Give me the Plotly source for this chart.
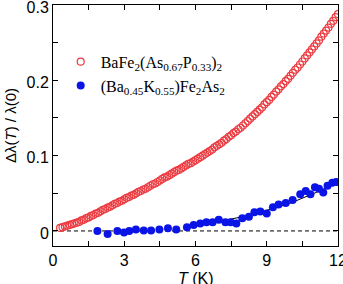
import plotly.graph_objects as go

# BaFe2(As0.67P0.33)2 : T (K) and delta-lambda / lambda(0)
t_red = [0.3, 0.4, 0.5, 0.6, 0.7, 0.8, 0.9, 1.0, 1.1, 1.2, 1.3, 1.4, 1.5, 1.6, 1.7, 1.8, 1.9,
         2.0, 2.1, 2.2, 2.3, 2.4, 2.5, 2.6, 2.7, 2.8, 2.9, 3.0, 3.1, 3.2, 3.3, 3.4, 3.5, 3.6,
         3.7, 3.8, 3.9, 4.0, 4.1, 4.2, 4.3, 4.4, 4.5, 4.6, 4.7, 4.8, 4.9, 5.0, 5.1, 5.2, 5.3,
         5.4, 5.5, 5.6, 5.7, 5.8, 5.9, 6.0, 6.1, 6.2, 6.3, 6.4, 6.5, 6.6, 6.7, 6.8, 6.9, 7.0,
         7.1, 7.2, 7.3, 7.4, 7.5, 7.6, 7.7, 7.8, 7.9, 8.0, 8.1, 8.2, 8.3, 8.4, 8.5, 8.6, 8.7,
         8.8, 8.9, 9.0, 9.1, 9.2, 9.3, 9.4, 9.5, 9.6, 9.7, 9.8, 9.9, 10.0, 10.1, 10.2, 10.3,
         10.4, 10.5, 10.6, 10.7, 10.8, 10.9, 11.0, 11.1, 11.2, 11.3, 11.4, 11.5, 11.6, 11.7,
         11.8, 11.9, 12.0]
v_red = [0.004, 0.005, 0.006, 0.007, 0.008, 0.009, 0.010, 0.011, 0.012, 0.014, 0.015, 0.017,
         0.018, 0.020, 0.021, 0.023, 0.024, 0.026, 0.028, 0.029, 0.031, 0.032, 0.034, 0.036,
         0.037, 0.039, 0.040, 0.042, 0.044, 0.045, 0.047, 0.048, 0.050, 0.052, 0.053, 0.055,
         0.056, 0.058, 0.060, 0.062, 0.063, 0.065, 0.067, 0.069, 0.071, 0.072, 0.074, 0.076,
         0.078, 0.080, 0.081, 0.083, 0.085, 0.087, 0.089, 0.090, 0.092, 0.094, 0.096, 0.098,
         0.100, 0.102, 0.104, 0.106, 0.108, 0.111, 0.113, 0.115, 0.117, 0.120, 0.122, 0.125,
         0.127, 0.130, 0.132, 0.135, 0.137, 0.140, 0.143, 0.146, 0.149, 0.152, 0.155, 0.158,
         0.161, 0.164, 0.168, 0.171, 0.174, 0.178, 0.181, 0.185, 0.188, 0.192, 0.195, 0.199,
         0.202, 0.206, 0.210, 0.214, 0.217, 0.221, 0.225, 0.229, 0.233, 0.237, 0.241, 0.245,
         0.249, 0.253, 0.258, 0.262, 0.266, 0.270, 0.275, 0.279, 0.284, 0.288]

# (Ba0.45K0.55)Fe2As2
t_blue = [1.87, 2.30, 2.71, 2.99, 3.21, 3.49, 3.82, 4.13, 4.48, 4.84, 5.19, 5.64, 5.92, 6.20,
          6.46, 6.72, 6.98, 7.26, 7.48, 7.72, 7.97, 8.25, 8.48, 8.73, 9.00, 9.26, 9.50, 9.80,
          10.09, 10.41, 10.64, 10.84, 11.03, 11.20, 11.38, 11.56, 11.76, 11.92]
v_blue = [0.000, -0.004, 0.000, -0.002, 0.000, 0.002, 0.0005, 0.0005, 0.002, 0.0035, 0.002,
          0.005, 0.008, 0.010, 0.0115, 0.0115, 0.015, 0.0115, 0.0115, 0.010, 0.0168, 0.019,
          0.0248, 0.0257, 0.023, 0.0314, 0.035, 0.037, 0.041, 0.0487, 0.053, 0.0487, 0.058,
          0.056, 0.051, 0.060, 0.064, 0.065]

# fit curve through the blue data
t_fit = [5.5, 6.0, 6.5, 7.0, 7.5, 8.0, 8.5, 9.0, 9.5, 10.0, 10.5, 11.0, 11.5, 12.0]
v_fit = [0.003, 0.006, 0.009, 0.012, 0.015, 0.019, 0.023, 0.027, 0.032, 0.037, 0.043, 0.050, 0.057, 0.065]

# zero reference
t_zero = [0, 12]
v_zero = [0, 0]

red = "#ec3a40"
blue = "#0a14e6"

fig = go.Figure()
fig.add_trace(go.Scatter(x=t_zero, y=v_zero, mode="lines", showlegend=False,
                         line=dict(color="black", width=1, dash="4px,3px")))
fig.add_trace(go.Scatter(x=t_fit, y=v_fit, mode="lines", showlegend=False,
                         line=dict(color="black", width=1)))
fig.add_trace(go.Scatter(x=t_red, y=v_red, mode="markers",
                         name="BaFe<sub>2</sub>(As<sub>0.67</sub>P<sub>0.33</sub>)<sub>2</sub>",
                         marker=dict(symbol="circle-open", size=7, color=red, line=dict(width=1.2, color=red))))
fig.add_trace(go.Scatter(x=t_blue, y=v_blue, mode="markers",
                         name="(Ba<sub>0.45</sub>K<sub>0.55</sub>)Fe<sub>2</sub>As<sub>2</sub>",
                         marker=dict(symbol="circle", size=8, color=blue)))

axis_common = dict(showline=True, linecolor="black", linewidth=1, mirror="ticks",
                   ticks="inside", ticklen=5, tickcolor="black", showgrid=False, zeroline=False,
                   ticklabeloverflow="allow", automargin=False,
                   tickfont=dict(family="Liberation Sans", size=16, color="black"))

fig.update_xaxes(range=[0, 12], tickvals=[0, 3, 6, 9, 12], ticktext=["0", "3", "6", "9", "12"],
                 minor=dict(tickvals=[1.5, 4.5, 7.5, 10.5], ticks="inside", ticklen=5, tickcolor="black"),
                 **axis_common)
fig.update_yaxes(range=[-0.02, 0.3], tickvals=[0, 0.1, 0.2, 0.3], ticktext=["0", "0.1", "0.2", "0.3"],
                 minor=dict(tickvals=[0.05, 0.15, 0.25], ticks="inside", ticklen=5, tickcolor="black"),
                 ticklabelshift=2,
                 title=dict(text="Δλ(<i>T</i>) / λ(0)", font=dict(family="Liberation Sans", size=15, color="black"),
                            standoff=6),
                 **axis_common)

fig.add_annotation(text="<i>T</i> (K)", xref="paper", yref="paper", x=0.5, y=-0.133,
                   xanchor="center", yanchor="middle", showarrow=False,
                   font=dict(family="Liberation Sans", size=16, color="black"))

fig.update_layout(
    width=343, height=284,
    margin=dict(l=53, r=5, t=5, b=38),
    plot_bgcolor="white", paper_bgcolor="white",
    legend=dict(x=0.027, y=0.835, xanchor="left", yanchor="top",
                font=dict(family="Liberation Serif", size=16, color="black"),
                bgcolor="rgba(0,0,0,0)", tracegroupgap=0, itemsizing="trace"),
)

fig.write_html("out.html")
